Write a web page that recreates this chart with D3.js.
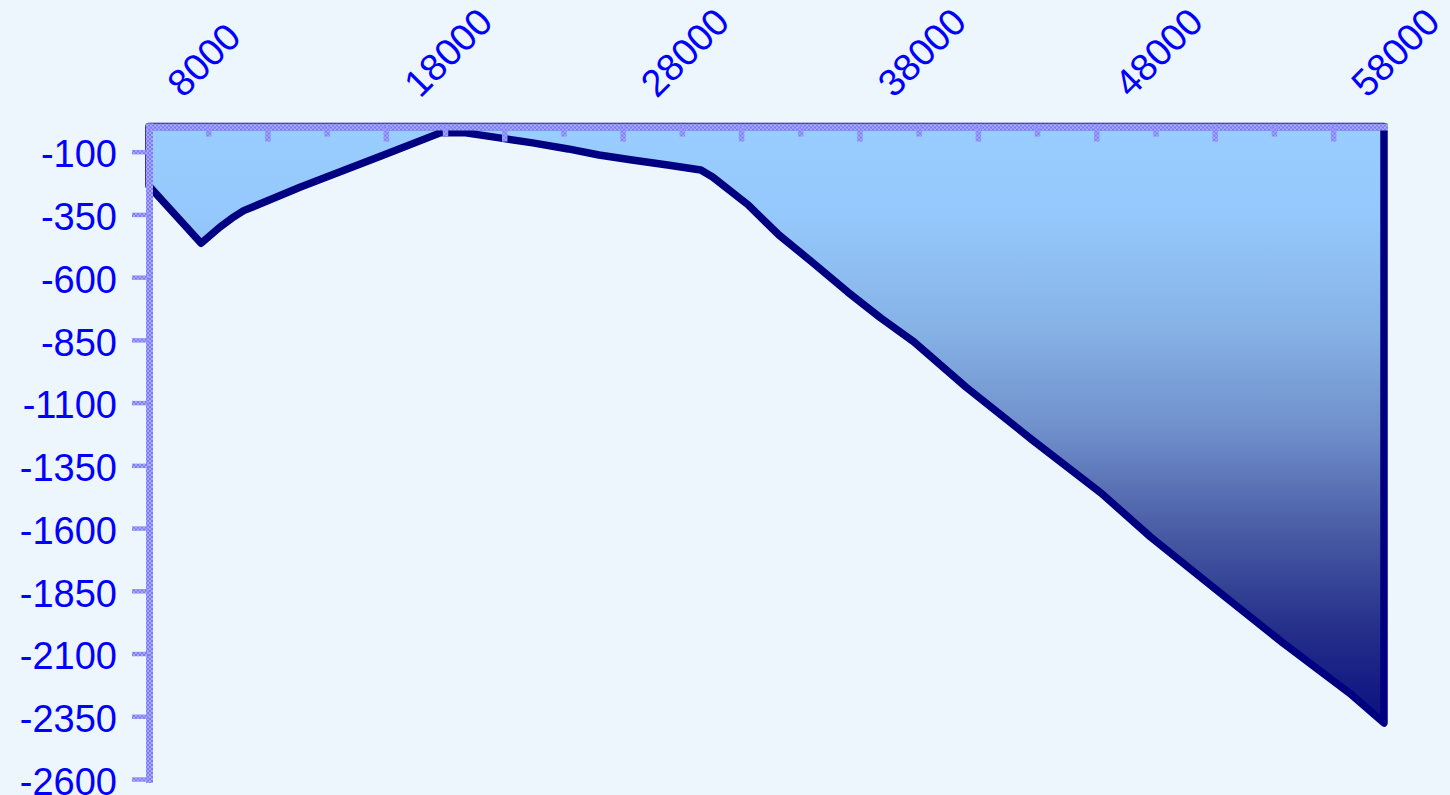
<!DOCTYPE html>
<html>
<head>
<meta charset="utf-8">
<script src="https://cdn.jsdelivr.net/npm/d3@7"></script>
<style>
  html, body { margin: 0; padding: 0; background: #eef6fd; }
  svg { display: block; }
  text { font-family: "Liberation Sans", Arial, sans-serif; }
</style>
</head>
<body>
<svg id="chart" width="1450" height="795"></svg>
<script>
// data
const xVals = [5500, 7700, 8500, 9000, 9500, 11900, 15300, 17800, 18800, 20300, 21700, 23200, 24500,
    25900, 27400, 28800, 29300, 30800, 32100, 33500, 35000, 36400, 37800, 40000, 42800,
    45700, 47800, 50600, 53400, 56200, 57650];
const yVals = [-237, -465, -400, -365, -335, -241, -117, -25, -24, -45, -65, -89, -113,
    -133, -153, -173, -201, -312, -432, -540, -659, -763, -858, -1038, -1249,
    -1460, -1636, -1848, -2059, -2258, -2377];

const yTicks = [-100, -350, -600, -850, -1100, -1350, -1600, -1850, -2100, -2350, -2600];
const xTicks = [8000, 10500, 13000, 15500, 18000, 20500, 23000, 25500, 28000, 30500,
    33000, 35500, 38000, 40500, 43000, 45500, 48000, 50500, 53000, 55500];
const xLabels = [8000, 18000, 28000, 38000, 48000, 58000];

const data = xVals.map((x, i) => ({ x, y: yVals[i] }));

const svg = d3.select('#chart');
const x = d3.scaleLinear().domain([5500, 57650]).range([149, 1384]);
const y = d3.scaleLinear().domain([0, -2600]).range([126.6, 779]);

const defs = svg.append('defs');

// blue gradient of the area, light at zero, navy at the lowest point
const grad = defs.append('linearGradient')
    .attr('id', 'areaGrad')
    .attr('gradientUnits', 'userSpaceOnUse')
    .attr('x1', 0).attr('x2', 0)
    .attr('y1', y(0)).attr('y2', y(d3.min(yVals)));
[[0, '#99ccff'], [0.15, '#95c8fc'], [0.34, '#86b2e6'], [0.51, '#6f8fcb'],
 [0.67, '#4b5ea6'], [0.84, '#25308a'], [1, '#0a1080']].forEach(([o, c]) => {
    grad.append('stop').attr('offset', o).attr('stop-color', c);
});

// checkered pattern used by the axis lines
const pat = defs.append('pattern')
    .attr('id', 'axisPat')
    .attr('patternUnits', 'userSpaceOnUse')
    .attr('width', 4).attr('height', 4);
pat.append('rect').attr('width', 4).attr('height', 4).attr('fill', '#7c7cf2');
pat.append('rect').attr('width', 2).attr('height', 2).attr('fill', '#a9a9ff');
pat.append('rect').attr('x', 2).attr('y', 2).attr('width', 2).attr('height', 2).attr('fill', '#a9a9ff');

const area = d3.area()
    .x(d => x(d.x))
    .y0(y(0))
    .y1(d => y(d.y));

svg.append('path')
    .datum(data)
    .attr('d', area)
    .attr('fill', 'url(#areaGrad)')
    .attr('stroke', '#000080')
    .attr('stroke-width', 7.5)
    .attr('stroke-linejoin', 'round');

// left axis
const yAxis = svg.append('g')
    .attr('transform', `translate(${x(5500)},0)`)
    .call(d3.axisLeft(y).tickValues(yTicks).tickSize(17).tickSizeOuter(0).tickPadding(15)
        .tickFormat(d => String(d)));
yAxis.select('.domain')
    .attr('stroke', 'url(#axisPat)')
    .attr('stroke-width', 7)
    .attr('stroke-linecap', 'square');
yAxis.selectAll('.tick line')
    .attr('stroke', 'url(#axisPat)')
    .attr('stroke-width', 4.5);
yAxis.selectAll('.tick text')
    .attr('font-size', 38)
    .attr('fill', '#0000ff')
    .attr('dy', '0.4em');

// top axis, ticks point down into the plot
const xAxis = svg.append('g')
    .attr('transform', `translate(0,${y(0)})`)
    .call(d3.axisTop(x).tickValues(xTicks).tickSize(0).tickSizeOuter(0).tickFormat(''));
xAxis.select('.domain')
    .attr('stroke', 'url(#axisPat)')
    .attr('stroke-width', 7)
    .attr('stroke-linecap', 'square');
xAxis.selectAll('.tick line')
    .attr('y2', (d, i) => i % 2 === 0 ? 10 : 15)
    .attr('stroke', 'url(#axisPat)')
    .attr('stroke-width', 5.5);

// rotated labels above the top axis
svg.append('g').selectAll('text')
    .data(xLabels)
    .enter()
    .append('text')
    .attr('transform', d => `translate(${x(d) - 25},99) rotate(-45)`)
    .attr('font-size', 38)
    .attr('fill', '#0000ff')
    .text(d => d);
</script>
</body>
</html>
